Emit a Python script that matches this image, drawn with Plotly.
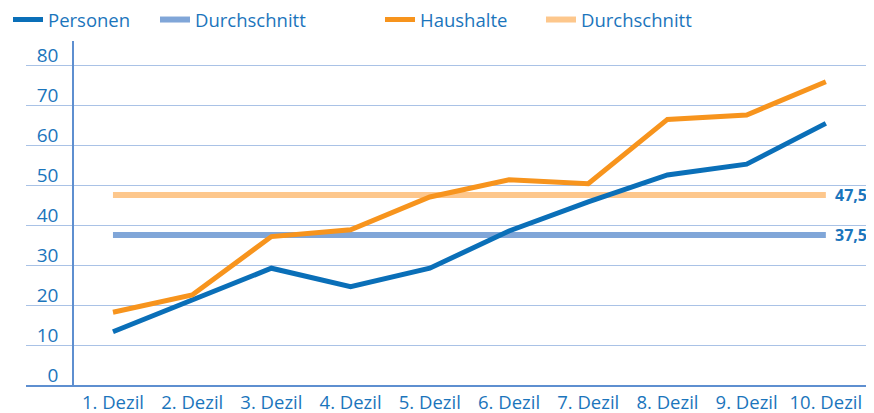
import plotly.graph_objects as go

categories = ["1. Dezil", "2. Dezil", "3. Dezil", "4. Dezil", "5. Dezil",
              "6. Dezil", "7. Dezil", "8. Dezil", "9. Dezil", "10. Dezil"]
personen = [13.3, 21.2, 29.2, 24.6, 29.2, 38.5, 45.8, 52.5, 55.2, 65.4]
haushalte = [18.2, 22.5, 37.1, 38.8, 47.0, 51.3, 50.3, 66.4, 67.5, 75.8]
avg_personen = 37.5
avg_haushalte = 47.5
y_ticks = [0, 10, 20, 30, 40, 50, 60, 70, 80]

TEXT = "#1b75bc"
C_PERS = "#0a6fb8"
C_PERS_AVG = "#80a6d8"
C_HH = "#f7941d"
C_HH_AVG = "#fdc78c"
GRID = "#a9c2e6"
AXIS = "#5e8fd0"
FONT = "Open Sans"

# page body has an 8px margin, so the figure is sized/offset to compensate
W, H = 866, 405

xs = list(range(len(categories)))

fig = go.Figure()
# averages first so the main lines are drawn on top
fig.add_trace(go.Scatter(x=xs, y=[avg_personen] * len(xs), mode="lines", name="Durchschnitt",
                         line=dict(color=C_PERS_AVG, width=6), legend="legend2"))
fig.add_trace(go.Scatter(x=xs, y=[avg_haushalte] * len(xs), mode="lines", name="Durchschnitt",
                         line=dict(color=C_HH_AVG, width=6), legend="legend4"))
fig.add_trace(go.Scatter(x=xs, y=personen, mode="lines", name="Personen",
                         line=dict(color=C_PERS, width=5), legend="legend"))
fig.add_trace(go.Scatter(x=xs, y=haushalte, mode="lines", name="Haushalte",
                         line=dict(color=C_HH, width=5), legend="legend3"))

for v in (avg_haushalte, avg_personen):
    fig.add_annotation(x=xs[-1], y=v, text="<b>" + f"{v:.1f}".replace(".", ",") + "</b>",
                       showarrow=False, xanchor="left", xshift=7,
                       font=dict(family=FONT, size=16, color=TEXT))

legend_common = dict(orientation="h", font=dict(family=FONT, size=18.5, color=TEXT),
                     bgcolor="rgba(0,0,0,0)", xref="container", yref="container",
                     yanchor="middle", y=1 - 12 / H, xanchor="left", itemwidth=30)

fig.update_layout(
    width=W, height=H,
    margin=dict(l=18, r=3, t=33, b=28, autoexpand=False),
    plot_bgcolor="white", paper_bgcolor="white",
    font=dict(family=FONT, size=18.5, color=TEXT),
    showlegend=True,
    legend=dict(**legend_common, x=0.0),
    legend2=dict(**legend_common, x=147 / W),
    legend3=dict(**legend_common, x=372 / W),
    legend4=dict(**legend_common, x=533 / W),
    xaxis=dict(range=[-1.098, 9.57], tickmode="array", tickvals=xs, ticktext=categories,
               showgrid=False, zeroline=False, showline=True, linecolor=AXIS, linewidth=1.5,
               ticks="", ticklen=0, tickfont=dict(family=FONT, size=18.5, color=TEXT)),
    yaxis=dict(range=[0, 86], tickmode="array", tickvals=y_ticks,
               showgrid=True, gridcolor=GRID, gridwidth=1, zeroline=False,
               showline=True, linecolor=AXIS, linewidth=1.5,
               ticks="", anchor="free", position=(73 - 26) / 845,
               ticklabelstandoff=10, ticklabelshift=-10,
               tickfont=dict(family=FONT, size=19, color=TEXT)),
)

fig.write_html("out.html")
